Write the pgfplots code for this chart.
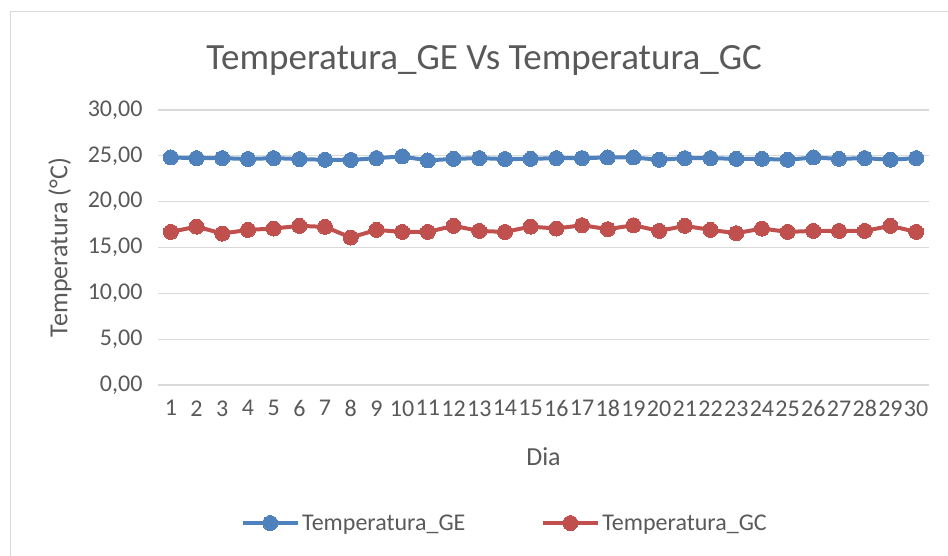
\documentclass[border=0pt]{standalone}
\usepackage{fontspec}
\setmainfont{Carlito}
\usepackage{pgfplots}
\pgfplotsset{compat=1.18}
\definecolor{geblue}{HTML}{4F81BD}
\definecolor{gcred}{HTML}{C0504D}
\definecolor{txt}{HTML}{595959}
\definecolor{gridc}{HTML}{D9D9D9}

\pgfplotstableread{
dia ge gc
1 24.82 16.70
2 24.75 17.28
3 24.75 16.52
4 24.65 16.92
5 24.75 17.07
6 24.65 17.36
7 24.57 17.25
8 24.55 16.09
9 24.75 16.92
10 24.93 16.70
11 24.50 16.70
12 24.67 17.36
13 24.75 16.81
14 24.65 16.70
15 24.67 17.28
16 24.75 17.07
17 24.75 17.43
18 24.82 17.00
19 24.82 17.43
20 24.57 16.81
21 24.75 17.36
22 24.75 16.92
23 24.67 16.56
24 24.67 17.07
25 24.57 16.70
26 24.82 16.81
27 24.67 16.81
28 24.75 16.81
29 24.57 17.36
30 24.75 16.70
}\temps

\begin{document}
\begin{tikzpicture}[font=\fontsize{24}{28}\selectfont,text=txt]
\path[use as bounding box] (0pt,0pt) rectangle (948pt,-556pt);
\draw[gridc,line width=1pt] (10pt,-556pt) -- (10pt,-12pt) -- (948pt,-12pt);
\begin{axis}[
  at={(158pt,-385pt)},anchor=south west,
  scale only axis,width=771pt,height=275pt,
  xmin=0.5,xmax=30.5,ymin=0,ymax=30,
  axis line style={draw=none},
  xtick style={draw=none},ytick style={draw=none},
  xtick={1,...,30},
  ytick={0,5,10,15,20,25,30},
  yticklabels={{0,00},{5,00},{10,00},{15,00},{20,00},{25,00},{30,00}},
  /pgf/number format/assume math mode=true,
  ymajorgrids,grid style={draw=gridc,line width=1.2pt},
  xticklabel style={yshift=-12pt},
  yticklabel style={xshift=-12pt},
  title={Temperatura\_GE Vs Temperatura\_GC},
  title style={at={(rel axis cs:0.423,1.16)},anchor=center,font=\fontsize{37}{42}\selectfont},
  xlabel={Dia},
  xlabel style={at={(rel axis cs:0.5,-0.262)},anchor=center,font=\fontsize{26}{30}\selectfont},
  ylabel={Temperatura (°C)},
  ylabel style={at={(rel axis cs:-0.127,0.5)},anchor=center,font=\fontsize{26}{30}\selectfont},
  legend columns=2,
  legend style={at={(rel axis cs:0.45,-0.502)},anchor=center,draw=none,fill=none,
    /tikz/every even column/.append style={column sep=74pt},
    font=\fontsize{24}{28}\selectfont,text=txt},
  legend image code/.code={\draw[mark repeat=2,mark phase=2,#1] plot coordinates {(0pt,0pt)(27pt,0pt)(55pt,0pt)};},
  clip=false]
  \addplot[geblue,line width=4pt,mark=*,mark size=7.5pt,mark options={solid,fill=geblue,draw=geblue,line width=0pt}] table[x=dia,y=ge] {\temps};
  \addlegendentry{Temperatura\_GE}
  \addplot[gcred,line width=4pt,mark=*,mark size=7.5pt,mark options={solid,fill=gcred,draw=gcred,line width=0pt}] table[x=dia,y=gc] {\temps};
  \addlegendentry{Temperatura\_GC}
\end{axis}
\end{tikzpicture}
\end{document}
